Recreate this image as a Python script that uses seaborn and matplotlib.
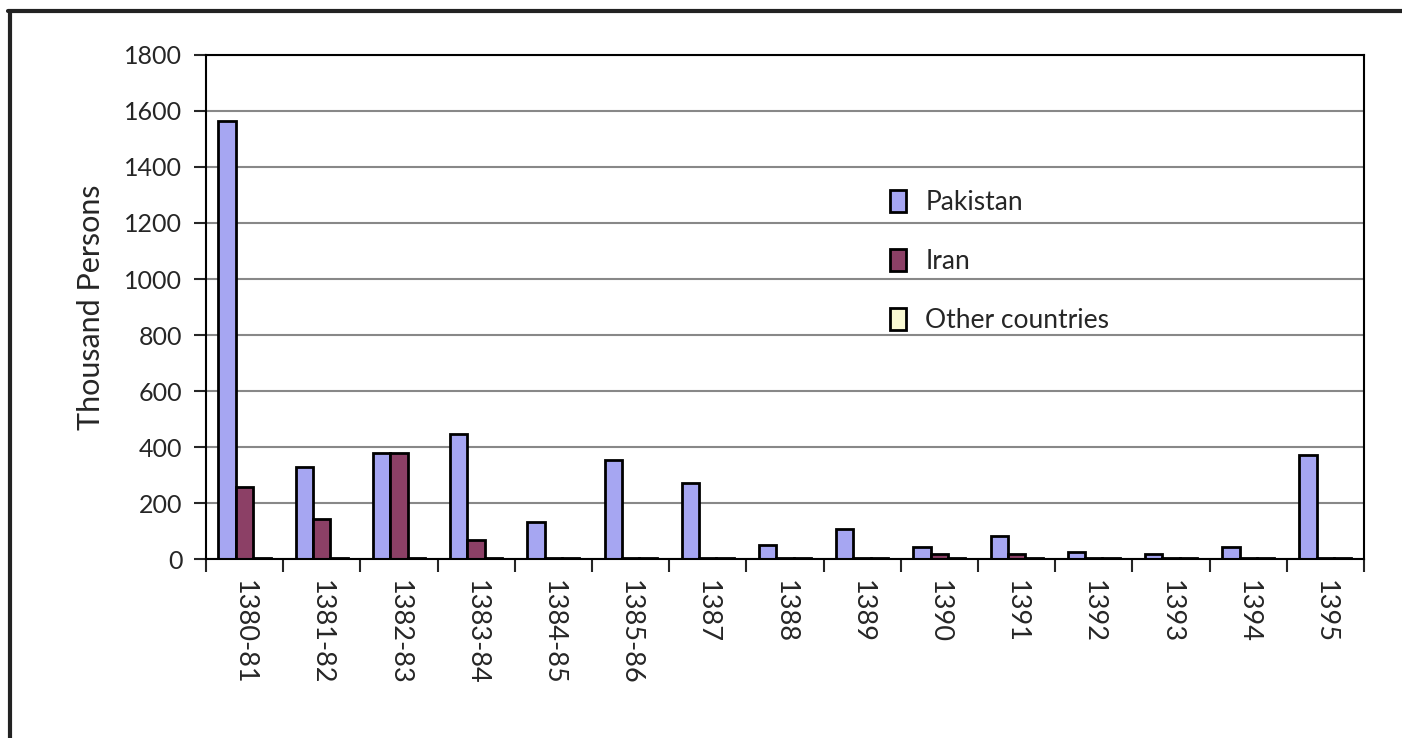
import matplotlib
matplotlib.use("Agg")
import matplotlib.pyplot as plt
import numpy as np
import pandas as pd
import seaborn as sns
from matplotlib.lines import Line2D
from matplotlib.ticker import FixedLocator

periods = ["1380-81", "1381-82", "1382-83", "1383-84", "1384-85", "1385-86", "1387",
           "1388", "1389", "1390", "1391", "1392", "1393", "1394", "1395"]
pakistan = [1565, 330, 380, 446, 132, 355, 272, 50, 107, 43, 82, 25, 17, 43, 371]
iran = [257, 143, 380, 68, 5, 5, 5, 5, 5, 18, 18, 5, 5, 5, 5]
other = [5, 5, 5, 5, 5, 5, 5, 5, 5, 5, 5, 5, 5, 5, 5]

series_names = ["Pakistan", "Iran", "Other countries"]
colors = ["#9999FF", "#993366", "#FFFFCC"]

df = pd.DataFrame({"period": periods, "Pakistan": pakistan, "Iran": iran, "Other countries": other})
long = df.melt(id_vars="period", var_name="country", value_name="persons")

sns.set_style("white")
plt.rcParams["font.family"] = ["Lato", "DejaVu Sans"]

fig = plt.figure(figsize=(14.02, 7.38), dpi=100)
ax = fig.add_axes([0.1469, 0.2425, 0.826, 0.683])

sns.barplot(
    data=long, x="period", y="persons", hue="country",
    hue_order=series_names, palette=colors, width=0.675, gap=0,
    edgecolor="black", linewidth=2, ax=ax, legend=True,
)

ax.set_ylim(0, 1800)
ax.set_xlim(-0.5, len(periods) - 0.5)
ax.set_yticks(np.arange(0, 1801, 200))
ax.yaxis.grid(True, color="#888888", linewidth=1.5)
ax.set_axisbelow(True)
for side in ["left", "bottom", "top", "right"]:
    ax.spines[side].set_visible(True)
    ax.spines[side].set_color("black")
    ax.spines[side].set_linewidth(1.5)

ax.tick_params(axis="y", direction="out", length=9, width=1.5, labelsize=18, pad=8, left=True)
ax.tick_params(axis="x", which="major", length=0, labelsize=19.5, pad=15, labelrotation=-90)
ax.xaxis.set_minor_locator(FixedLocator(np.arange(-0.5, len(periods), 1)))
ax.tick_params(axis="x", which="minor", direction="out", length=9, width=1.5, bottom=True)
for lbl in ax.get_xticklabels():
    lbl.set_verticalalignment("top")

ax.set_xlabel("")
ax.set_ylabel("Thousand Persons", fontsize=22, labelpad=14)

handles, labels = ax.get_legend_handles_labels()
ax.legend(handles, labels, loc="upper left", bbox_to_anchor=(0.57, 0.78),
          frameon=False, fontsize=19, handlelength=0.6, handleheight=0.9,
          handletextpad=0.75, labelspacing=1.3)

# outer chart frame (only top and left edges visible in the crop)
fig.add_artist(Line2D([8 / 1402, 1.0], [1 - 11 / 738, 1 - 11 / 738],
                      transform=fig.transFigure, color="#222222", linewidth=3))
fig.add_artist(Line2D([10 / 1402, 10 / 1402], [1 - 11 / 738, 0.0],
                      transform=fig.transFigure, color="#222222", linewidth=3))

fig.savefig("out.png", dpi=100)
